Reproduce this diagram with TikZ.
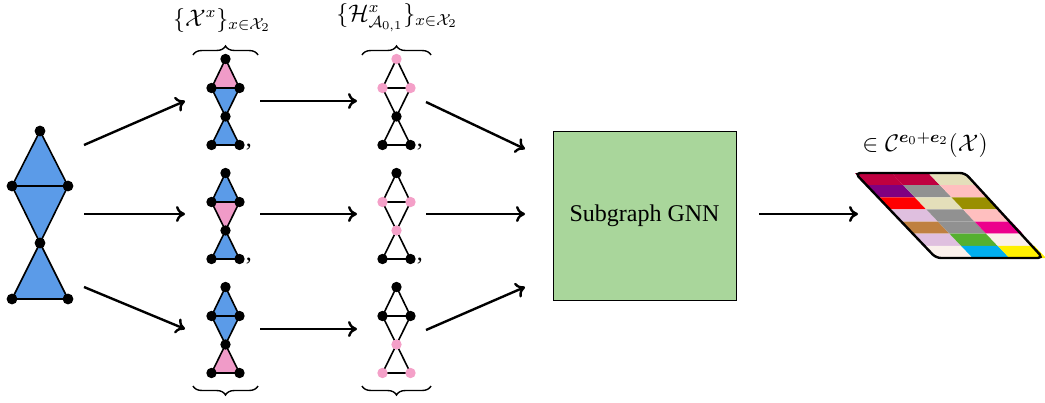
\documentclass[tikz,border=0pt]{standalone}
\usepackage{amsmath}
\usepackage{fontspec}
\setmainfont{Liberation Serif}
\usetikzlibrary{decorations.pathreplacing,arrows.meta}
\definecolor{triblue}{RGB}{91,155,232}
\definecolor{tripink}{RGB}{240,155,200}
\definecolor{dotpink}{RGB}{244,160,200}
\definecolor{gnngreen}{RGB}{169,214,155}
\definecolor{cA}{RGB}{191,0,64}
\definecolor{cB}{RGB}{228,223,186}
\definecolor{cC}{RGB}{128,0,128}
\definecolor{cD}{RGB}{145,145,145}
\definecolor{cE}{RGB}{255,191,191}
\definecolor{cF}{RGB}{255,0,0}
\definecolor{cG}{RGB}{153,143,0}
\definecolor{cH}{RGB}{223,191,223}
\definecolor{cI}{RGB}{191,128,64}
\definecolor{cJ}{RGB}{236,0,140}
\definecolor{cK}{RGB}{85,176,48}
\definecolor{cL}{RGB}{250,240,235}
\definecolor{cM}{RGB}{0,174,239}
\definecolor{cN}{RGB}{255,240,0}
\tikzset{
  edge/.style={line width=0.8pt, line join=round},
  bdot/.style={circle, fill=black, inner sep=0pt, minimum size=5.4pt},
  sdot/.style={circle, fill=#1, inner sep=0pt, minimum size=5.2pt},
  arr/.style={-{To[length=4.5pt,width=8pt]}, line width=1.2pt},
  brc/.style={decorate, decoration={brace, amplitude=4.5pt}, line width=0.7pt},
  lbl/.style={font=\fontsize{12}{14}\selectfont, inner sep=0pt},
}
\newcommand{\gA}[6]{%
  \coordinate (#1t) at (#2,#3);
  \coordinate (#1l) at (#2-14,#3+29);
  \coordinate (#1r) at (#2+14,#3+29);
  \coordinate (#1c) at (#2,#3+57.5);
  \coordinate (#1bl) at (#2-14,#3+86);
  \coordinate (#1br) at (#2+14,#3+86);
  \filldraw[edge, fill=#4] (#1t) -- (#1l) -- (#1r) -- cycle;
  \filldraw[edge, fill=#5] (#1l) -- (#1r) -- (#1c) -- cycle;
  \filldraw[edge, fill=#6] (#1c) -- (#1bl) -- (#1br) -- cycle;
  \foreach \p in {t,l,r,c,bl,br} \node[sdot=black] (#1d\p) at (#1\p) {};
}
\newcommand{\gB}[9]{%
  \coordinate (#1t) at (#2,#3);
  \coordinate (#1l) at (#2-14,#3+29);
  \coordinate (#1r) at (#2+14,#3+29);
  \coordinate (#1c) at (#2,#3+57.5);
  \coordinate (#1bl) at (#2-14,#3+86);
  \coordinate (#1br) at (#2+14,#3+86);
  \draw[edge] (#1t) -- (#1l) -- (#1r) -- cycle;
  \draw[edge] (#1l) -- (#1c) -- (#1r);
  \draw[edge] (#1c) -- (#1bl) -- (#1br) -- cycle;
  \node[sdot=#4] (#1dt) at (#1t) {};
  \node[sdot=#5] (#1dl) at (#1l) {};
  \node[sdot=#6] (#1dr) at (#1r) {};
  \node[sdot=#7] (#1dc) at (#1c) {};
  \node[sdot=#8] (#1dbl) at (#1bl) {};
  \node[sdot=#9] (#1dbr) at (#1br) {};
}
\begin{document}
\begin{tikzpicture}[x=0.5pt,y=-0.5pt]
\useasboundingbox (0,0) rectangle (1045,402);
% big graph
\coordinate (Gt) at (40,131);
\coordinate (Gl) at (12,186);
\coordinate (Gr) at (68,186);
\coordinate (Gc) at (40,243);
\coordinate (Gbl) at (12,299);
\coordinate (Gbr) at (68,299);
\filldraw[edge, fill=triblue] (Gt) -- (Gl) -- (Gr) -- cycle;
\filldraw[edge, fill=triblue] (Gl) -- (Gr) -- (Gc) -- cycle;
\filldraw[edge, fill=triblue] (Gc) -- (Gbl) -- (Gbr) -- cycle;
\foreach \p in {t,l,r,c,bl,br} \node[bdot] (Gd\p) at (G\p) {};
% column 1
\gA{A}{225.5}{59}{tripink}{triblue}{triblue}
\gA{B}{225.5}{173}{triblue}{tripink}{triblue}
\gA{C}{225.5}{287}{triblue}{triblue}{tripink}
% column 2
\gB{D}{396.5}{59}{dotpink}{dotpink}{dotpink}{black}{black}{black}
\gB{E}{396.5}{173}{black}{dotpink}{dotpink}{dotpink}{black}{black}
\gB{F}{396.5}{287}{black}{black}{black}{dotpink}{dotpink}{dotpink}
% commas
\node[lbl, anchor=base west] (cm1) at (245.5,146) {,};
\node[lbl, anchor=base west] (cm2) at (245.5,260) {,};
\node[lbl, anchor=base west] (cm3) at (416.5,146) {,};
\node[lbl, anchor=base west] (cm4) at (416.5,260) {,};
% braces and labels
\draw[brc] (193,55) -- (258,55);
\draw[brc] (362,55) -- (431,55);
\draw[brc] (258,386) -- (193,386);
\draw[brc] (431,386) -- (362,386);
\node[lbl] (labA) at (222,20) {$\{\mathcal{X}^x\}_{x\in\mathcal{X}_2}$};
\node[lbl] (labB) at (397,18) {$\{\mathcal{H}^x_{\mathcal{A}_{0,1}}\}_{x\in\mathcal{X}_2}$};
% GNN box
\node[draw, line width=0.5pt, fill=gnngreen, minimum width=91.5pt, minimum height=84.5pt, font=\fontsize{12}{14}\selectfont] (gnn) at (644.5,215.5) {Subgraph GNN};
% arrow end points
\coordinate (a1s) at (84,145); \coordinate (a1e) at (185,101);
\coordinate (a2s) at (84,214); \coordinate (a2e) at (185,214);
\coordinate (a3s) at (84,287); \coordinate (a3e) at (185,329);
\coordinate (b1s) at (260,101); \coordinate (b1e) at (357,101);
\coordinate (b2s) at (260,214); \coordinate (b2e) at (357,214);
\coordinate (b3s) at (260,329); \coordinate (b3e) at (357,329);
\coordinate (c1s) at (426,102); \coordinate (c1e) at (525,149);
\coordinate (c2s) at (426,214); \coordinate (c2e) at (525,214);
\coordinate (c3s) at (426,330); \coordinate (c3e) at (525,287);
\coordinate (d1s) at (759,214); \coordinate (d1e) at (858,214);
\foreach \n in {a1,a2,a3,b1,b2,b3,c1,c2,c3,d1} \draw[arr] (\n s) -- (\n e);
% colour grid
\foreach \i/\j/\c in {0/0/cA,1/0/cA,2/0/cB,
  0/1/cC,1/1/cD,2/1/cE,
  0/2/cF,1/2/cB,2/2/cG,
  0/3/cH,1/3/cD,2/3/cE,
  0/4/cI,1/4/cD,2/4/cJ,
  0/5/cH,1/5/cK,2/5/cL,
  0/6/cL,1/6/cM,2/6/cN}{
  \fill[\c] ({855+36.667*\i+11.571*\j},{173+12.143*\j}) --
    ({855+36.667*(\i+1)+11.571*\j},{173+12.143*\j}) --
    ({855+36.667*(\i+1)+11.571*(\j+1)},{173+12.143*(\j+1)}) --
    ({855+36.667*\i+11.571*(\j+1)},{173+12.143*(\j+1)}) -- cycle;
}
\coordinate (gTL) at (855,173);
\coordinate (gTR) at (965,173);
\coordinate (gBR) at (1043,258);
\coordinate (gBL) at (936,258);
\draw[line width=1.2pt, rounded corners=2.5pt] (gTL) -- (gTR) -- (gBR) -- (gBL) -- cycle;
\node[lbl] (labC) at (925,145) {$\in\mathcal{C}^{\boldsymbol{e}_0+\boldsymbol{e}_2}(\mathcal{X})$};
\end{tikzpicture}
\end{document}
